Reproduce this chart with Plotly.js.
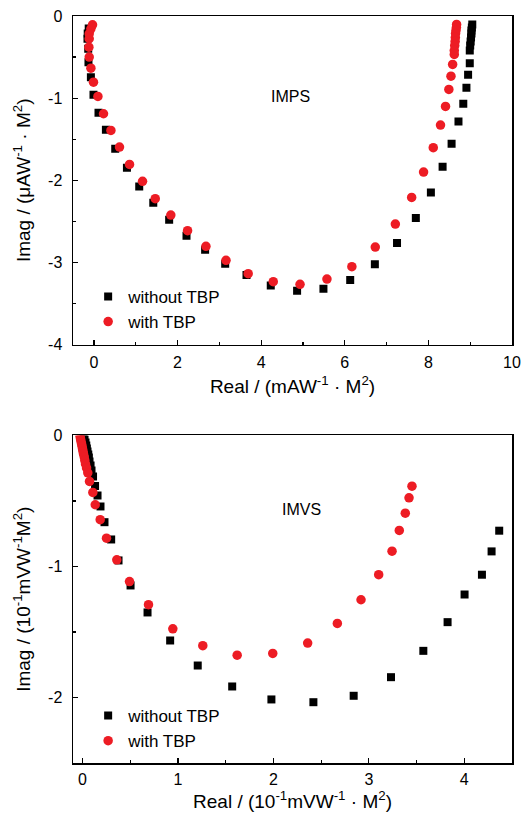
<!DOCTYPE html>
<html>
<head>
<meta charset="utf-8">
<script src="https://cdn.plot.ly/plotly-3.0.1.min.js"></script>
<style>html,body{margin:0;padding:0;background:#fff;}#chart{width:524px;height:817px;}</style>
</head>
<body>
<div id="chart"></div>
<script>
// IMPS (top) — without TBP
const impsNoTbpReal = [9.05, 9.04, 9.03, 9.03, 9.02, 9.01, 9.00, 8.99, 8.99, 8.95, 8.91, 8.835, 8.72, 8.555, 8.34, 8.06, 7.70, 7.25, 6.72, 6.13, 5.49, 4.86, 4.23, 3.65, 3.14, 2.66, 2.215, 1.80, 1.42, 1.084, 0.79, 0.51, 0.287, 0.11, -0.01, -0.072, -0.13, -0.136, -0.153, -0.148, -0.124];
const impsNoTbpImag = [-0.103, -0.14, -0.176, -0.213, -0.262, -0.31, -0.36, -0.42, -0.574, -0.715, -0.873, -1.068, -1.283, -1.555, -1.835, -2.147, -2.46, -2.764, -3.023, -3.214, -3.319, -3.343, -3.282, -3.153, -3.015, -2.844, -2.674, -2.479, -2.272, -2.074, -1.847, -1.616, -1.384, -1.178, -0.959, -0.745, -0.562, -0.40, -0.277, -0.213, -0.152];
// IMPS (top) — with TBP
const impsTbpReal = [8.675, 8.67, 8.66, 8.65, 8.645, 8.64, 8.63, 8.62, 8.62, 8.58, 8.54, 8.49, 8.41, 8.29, 8.117, 7.885, 7.60, 7.21, 6.73, 6.17, 5.574, 4.93, 4.29, 3.69, 3.16, 2.68, 2.24, 1.84, 1.467, 1.163, 0.852, 0.612, 0.407, 0.23, 0.096, -0.01, -0.072, -0.112, -0.12, -0.112, -0.112, -0.072, -0.033];
const impsTbpImag = [-0.103, -0.14, -0.176, -0.213, -0.262, -0.31, -0.36, -0.42, -0.468, -0.59, -0.732, -0.894, -1.101, -1.328, -1.603, -1.90, -2.208, -2.533, -2.813, -3.051, -3.202, -3.266, -3.234, -3.136, -2.974, -2.804, -2.613, -2.423, -2.224, -2.013, -1.807, -1.596, -1.393, -1.19, -0.979, -0.805, -0.635, -0.50, -0.38, -0.277, -0.217, -0.156, -0.107];
// IMVS (bottom) — without TBP
const imvsNoTbpReal = [0.0105, 0.021, 0.031, 0.039, 0.045, 0.052, 0.060, 0.066, 0.073, 0.084, 0.094, 0.110, 0.131, 0.157, 0.188, 0.230, 0.30, 0.377, 0.503, 0.681, 0.918, 1.207, 1.568, 1.979, 2.419, 2.841, 3.232, 3.571, 3.825, 4.003, 4.185, 4.286, 4.366];
const imvsNoTbpImag = [-0.0076, -0.031, -0.053, -0.076, -0.099, -0.122, -0.145, -0.168, -0.198, -0.229, -0.267, -0.313, -0.385, -0.458, -0.542, -0.662, -0.794, -0.954, -1.145, -1.351, -1.565, -1.756, -1.916, -2.015, -2.036, -1.987, -1.845, -1.644, -1.425, -1.214, -1.063, -0.885, -0.727];
// IMVS (bottom) — with TBP
const imvsTbpReal = [-0.026, -0.021, -0.016, -0.010, -0.005, 0.0, 0.005, 0.010, 0.018, 0.024, 0.031, 0.042, 0.055, 0.073, 0.108, 0.133, 0.185, 0.251, 0.359, 0.492, 0.691, 0.946, 1.26, 1.62, 1.993, 2.359, 2.670, 2.918, 3.103, 3.243, 3.319, 3.382, 3.421, 3.452];
const imvsTbpImag = [-0.0076, -0.027, -0.046, -0.065, -0.084, -0.103, -0.122, -0.141, -0.164, -0.191, -0.218, -0.248, -0.285, -0.351, -0.435, -0.529, -0.643, -0.784, -0.949, -1.115, -1.292, -1.476, -1.605, -1.677, -1.664, -1.585, -1.435, -1.254, -1.063, -0.883, -0.725, -0.593, -0.476, -0.387];

// Tick labels
const impsXTicks = [0, 2, 4, 6, 8, 10];
const impsXLabels = ['0', '2', '4', '6', '8', '10'];
const impsYTicks = [0, -1, -2, -3, -4];
const impsYLabels = ['0', '-1', '-2', '-3', '-4'];
const imvsXTicks = [0, 1, 2, 3, 4];
const imvsXLabels = ['0', '1', '2', '3', '4'];
const imvsYTicks = [0, -1, -2];
const imvsYLabels = ['0', '-1', '-2'];

const seriesNames = ['without TBP', 'with TBP'];

const FONT = 'Arial, "Liberation Sans", sans-serif';
const RED = '#ED1C24';

const sq = {symbol: 'square', size: 8, color: '#000'};
const ci = {symbol: 'circle', size: 9.5, color: RED};

const traces = [
  {x: impsNoTbpReal, y: impsNoTbpImag, mode: 'markers', type: 'scatter', name: seriesNames[0], marker: sq, xaxis: 'x', yaxis: 'y', legend: 'legend'},
  {x: impsTbpReal, y: impsTbpImag, mode: 'markers', type: 'scatter', name: seriesNames[1], marker: ci, xaxis: 'x', yaxis: 'y', legend: 'legend'},
  {x: imvsNoTbpReal, y: imvsNoTbpImag, mode: 'markers', type: 'scatter', name: seriesNames[0], marker: sq, xaxis: 'x2', yaxis: 'y2', legend: 'legend2'},
  {x: imvsTbpReal, y: imvsTbpImag, mode: 'markers', type: 'scatter', name: seriesNames[1], marker: ci, xaxis: 'x2', yaxis: 'y2', legend: 'legend2'}
];

function minorTicks(d) {
  return {ticks: 'inside', ticklen: 3, tickwidth: 1.2, tickcolor: '#000', dtick: d, tick0: 0, showgrid: false};
}

function ax(extra) {
  return Object.assign({
    showline: true, linecolor: '#000', linewidth: 1.5, mirror: true,
    ticks: 'inside', ticklen: 5, tickwidth: 1.2, tickcolor: '#000',
    showgrid: false, zeroline: false, tickmode: 'array',
    tickfont: {family: FONT, size: 16, color: '#000'},
    automargin: false
  }, extra);
}

const TITLE_FONT = {family: FONT, size: 19, color: '#000'};

const layout = {
  width: 524, height: 817,
  margin: {l: 73, r: 11.5, t: 15.5, b: 54},
  paper_bgcolor: '#fff', plot_bgcolor: '#fff',
  font: {family: FONT, color: '#000'},
  showlegend: true,
  xaxis: ax({domain: [0, 1], anchor: 'y', range: [-0.5, 10], tickvals: impsXTicks, ticktext: impsXLabels,
    minor: minorTicks(1), ticklabelstandoff: 3,
    title: {text: 'Real / (mAW<sup>-1</sup> · M<sup>2</sup>)', font: TITLE_FONT, standoff: 9}}),
  yaxis: ax({domain: [0.5601, 1], anchor: 'x', range: [-4, 0], tickvals: impsYTicks, ticktext: impsYLabels,
    minor: minorTicks(0.5), ticklabelstandoff: 6,
    title: {text: 'Imag / (μAW<sup>-1</sup> · M<sup>2</sup>)', font: TITLE_FONT, standoff: 12}}),
  xaxis2: ax({domain: [0, 1], anchor: 'y2', range: [-0.1, 4.5], tickvals: imvsXTicks, ticktext: imvsXLabels,
    minor: minorTicks(0.5), ticklabelstandoff: 1,
    title: {text: 'Real / (10<sup>-1</sup>mVW<sup>-1</sup> · M<sup>2</sup>)', font: TITLE_FONT, standoff: 4}}),
  yaxis2: ax({domain: [0, 0.4385], anchor: 'x2', range: [-2.5, 0], tickvals: imvsYTicks, ticktext: imvsYLabels,
    minor: minorTicks(0.5), ticklabelstandoff: 6,
    title: {text: 'Imag / (10<sup>-1</sup>mVW<sup>-1</sup>M<sup>2</sup>)', font: TITLE_FONT, standoff: 12}}),
  legend: {x: 0.0345, y: 0.648, xanchor: 'left', yanchor: 'top', bgcolor: 'rgba(0,0,0,0)', font: {family: FONT, size: 17, color: '#000'}, tracegroupgap: 0},
  legend2: {x: 0.0345, y: 0.087, xanchor: 'left', yanchor: 'top', bgcolor: 'rgba(0,0,0,0)', font: {family: FONT, size: 17, color: '#000'}, tracegroupgap: 0},
  annotations: [
    {text: 'IMPS', xref: 'paper', yref: 'paper', showarrow: false, font: {family: FONT, size: 16, color: '#000'}},
    {text: 'IMVS', xref: 'paper', yref: 'paper', showarrow: false, font: {family: FONT, size: 16, color: '#000'}}
  ]
};
// place annotation labels in paper fractions
layout.annotations[0].x = (291 - 73) / 439.5; layout.annotations[0].y = (763 - 86) / 747.5;
layout.annotations[1].x = (302 - 73) / 439.5; layout.annotations[1].y = (763 - 520) / 747.5;

Plotly.newPlot('chart', traces, layout, {displayModeBar: false, staticPlot: true});
</script>
</body>
</html>
